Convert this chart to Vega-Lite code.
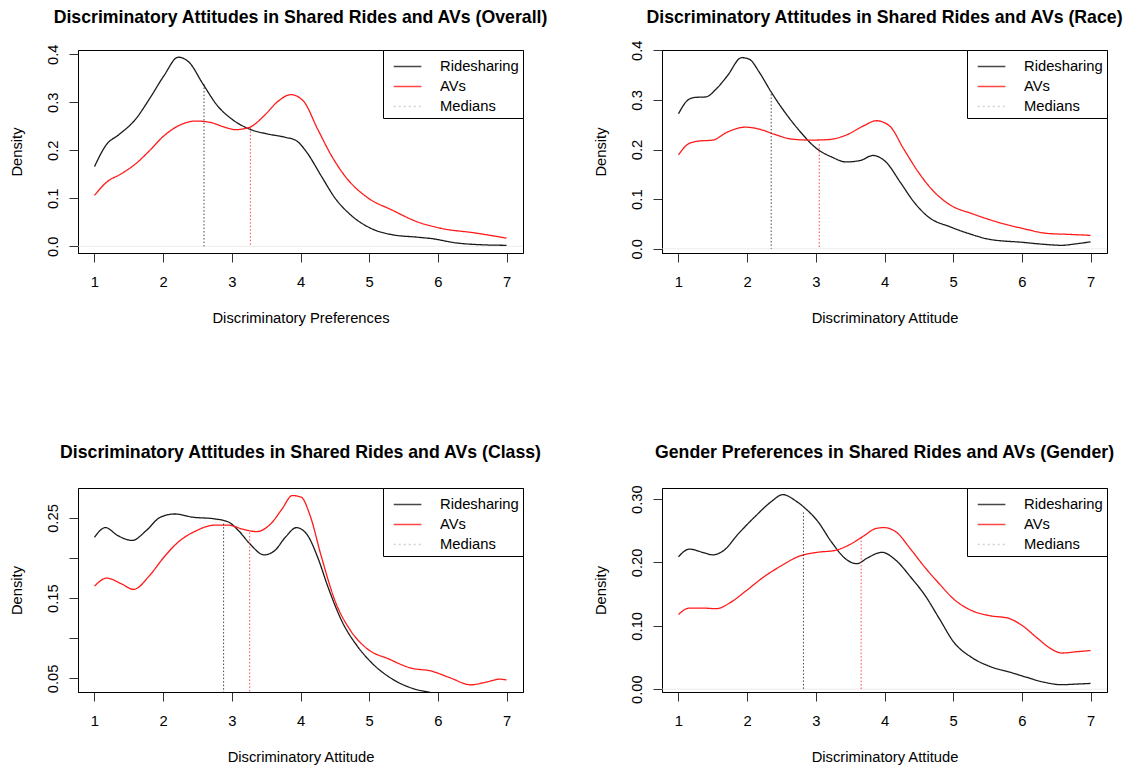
{
  "$schema": "https://vega.github.io/schema/vega-lite/v6.json",
  "background": "white",
  "padding": {"left": 8, "top": 8, "right": 5, "bottom": 5},
  "bounds": "flush",
  "columns": 2,
  "spacing": {"row": 235, "column": 139},
  "resolve": {"scale": {"color": "independent", "strokeDash": "independent"}},
  "datasets": {
    "curves": [
      {"panel": "overall", "series": "Ridesharing", "x": 1, "density": 0.166},
      {"panel": "overall", "series": "Ridesharing", "x": 1.18, "density": 0.213},
      {"panel": "overall", "series": "Ridesharing", "x": 1.35, "density": 0.232},
      {"panel": "overall", "series": "Ridesharing", "x": 1.6, "density": 0.265},
      {"panel": "overall", "series": "Ridesharing", "x": 1.8, "density": 0.307},
      {"panel": "overall", "series": "Ridesharing", "x": 2.01, "density": 0.355},
      {"panel": "overall", "series": "Ridesharing", "x": 2.22, "density": 0.394},
      {"panel": "overall", "series": "Ridesharing", "x": 2.38, "density": 0.383},
      {"panel": "overall", "series": "Ridesharing", "x": 2.58, "density": 0.338},
      {"panel": "overall", "series": "Ridesharing", "x": 2.79, "density": 0.293},
      {"panel": "overall", "series": "Ridesharing", "x": 3.0, "density": 0.265},
      {"panel": "overall", "series": "Ridesharing", "x": 3.26, "density": 0.244},
      {"panel": "overall", "series": "Ridesharing", "x": 3.52, "density": 0.234},
      {"panel": "overall", "series": "Ridesharing", "x": 3.78, "density": 0.227},
      {"panel": "overall", "series": "Ridesharing", "x": 3.94, "density": 0.22},
      {"panel": "overall", "series": "Ridesharing", "x": 4.09, "density": 0.196},
      {"panel": "overall", "series": "Ridesharing", "x": 4.3, "density": 0.147},
      {"panel": "overall", "series": "Ridesharing", "x": 4.51, "density": 0.099},
      {"panel": "overall", "series": "Ridesharing", "x": 4.71, "density": 0.068},
      {"panel": "overall", "series": "Ridesharing", "x": 5.03, "density": 0.037},
      {"panel": "overall", "series": "Ridesharing", "x": 5.34, "density": 0.024},
      {"panel": "overall", "series": "Ridesharing", "x": 5.7, "density": 0.019},
      {"panel": "overall", "series": "Ridesharing", "x": 5.91, "density": 0.016},
      {"panel": "overall", "series": "Ridesharing", "x": 6.27, "density": 0.007},
      {"panel": "overall", "series": "Ridesharing", "x": 6.58, "density": 0.0035},
      {"panel": "overall", "series": "Ridesharing", "x": 7, "density": 0.002},
      {"panel": "overall", "series": "AVs", "x": 1, "density": 0.106},
      {"panel": "overall", "series": "AVs", "x": 1.18, "density": 0.134},
      {"panel": "overall", "series": "AVs", "x": 1.39, "density": 0.151},
      {"panel": "overall", "series": "AVs", "x": 1.6, "density": 0.172},
      {"panel": "overall", "series": "AVs", "x": 1.8, "density": 0.199},
      {"panel": "overall", "series": "AVs", "x": 2.01, "density": 0.23},
      {"panel": "overall", "series": "AVs", "x": 2.22, "density": 0.251},
      {"panel": "overall", "series": "AVs", "x": 2.48, "density": 0.261},
      {"panel": "overall", "series": "AVs", "x": 2.69, "density": 0.258},
      {"panel": "overall", "series": "AVs", "x": 2.9, "density": 0.248},
      {"panel": "overall", "series": "AVs", "x": 3.05, "density": 0.243},
      {"panel": "overall", "series": "AVs", "x": 3.26, "density": 0.248},
      {"panel": "overall", "series": "AVs", "x": 3.47, "density": 0.272},
      {"panel": "overall", "series": "AVs", "x": 3.68, "density": 0.303},
      {"panel": "overall", "series": "AVs", "x": 3.86, "density": 0.316},
      {"panel": "overall", "series": "AVs", "x": 4.04, "density": 0.303},
      {"panel": "overall", "series": "AVs", "x": 4.25, "density": 0.244},
      {"panel": "overall", "series": "AVs", "x": 4.45, "density": 0.189},
      {"panel": "overall", "series": "AVs", "x": 4.66, "density": 0.144},
      {"panel": "overall", "series": "AVs", "x": 4.97, "density": 0.102},
      {"panel": "overall", "series": "AVs", "x": 5.34, "density": 0.075},
      {"panel": "overall", "series": "AVs", "x": 5.7, "density": 0.051},
      {"panel": "overall", "series": "AVs", "x": 6.06, "density": 0.037},
      {"panel": "overall", "series": "AVs", "x": 6.53, "density": 0.028},
      {"panel": "overall", "series": "AVs", "x": 7, "density": 0.017},

      {"panel": "race", "series": "Ridesharing", "x": 1, "density": 0.272},
      {"panel": "race", "series": "Ridesharing", "x": 1.14, "density": 0.3},
      {"panel": "race", "series": "Ridesharing", "x": 1.24, "density": 0.305},
      {"panel": "race", "series": "Ridesharing", "x": 1.4, "density": 0.306},
      {"panel": "race", "series": "Ridesharing", "x": 1.55, "density": 0.322},
      {"panel": "race", "series": "Ridesharing", "x": 1.71, "density": 0.348},
      {"panel": "race", "series": "Ridesharing", "x": 1.92, "density": 0.385},
      {"panel": "race", "series": "Ridesharing", "x": 2.03, "density": 0.382},
      {"panel": "race", "series": "Ridesharing", "x": 2.18, "density": 0.355},
      {"panel": "race", "series": "Ridesharing", "x": 2.34, "density": 0.318},
      {"panel": "race", "series": "Ridesharing", "x": 2.55, "density": 0.275},
      {"panel": "race", "series": "Ridesharing", "x": 2.76, "density": 0.238},
      {"panel": "race", "series": "Ridesharing", "x": 3.02, "density": 0.201},
      {"panel": "race", "series": "Ridesharing", "x": 3.23, "density": 0.185},
      {"panel": "race", "series": "Ridesharing", "x": 3.44, "density": 0.175},
      {"panel": "race", "series": "Ridesharing", "x": 3.65, "density": 0.178},
      {"panel": "race", "series": "Ridesharing", "x": 3.83, "density": 0.188},
      {"panel": "race", "series": "Ridesharing", "x": 4.02, "density": 0.175},
      {"panel": "race", "series": "Ridesharing", "x": 4.23, "density": 0.134},
      {"panel": "race", "series": "Ridesharing", "x": 4.43, "density": 0.094},
      {"panel": "race", "series": "Ridesharing", "x": 4.64, "density": 0.064},
      {"panel": "race", "series": "Ridesharing", "x": 4.96, "density": 0.044},
      {"panel": "race", "series": "Ridesharing", "x": 5.22, "density": 0.031},
      {"panel": "race", "series": "Ridesharing", "x": 5.53, "density": 0.019},
      {"panel": "race", "series": "Ridesharing", "x": 6.01, "density": 0.013},
      {"panel": "race", "series": "Ridesharing", "x": 6.32, "density": 0.009},
      {"panel": "race", "series": "Ridesharing", "x": 6.58, "density": 0.007},
      {"panel": "race", "series": "Ridesharing", "x": 6.79, "density": 0.01},
      {"panel": "race", "series": "Ridesharing", "x": 7, "density": 0.014},
      {"panel": "race", "series": "AVs", "x": 1, "density": 0.189},
      {"panel": "race", "series": "AVs", "x": 1.14, "density": 0.211},
      {"panel": "race", "series": "AVs", "x": 1.29, "density": 0.217},
      {"panel": "race", "series": "AVs", "x": 1.5, "density": 0.219},
      {"panel": "race", "series": "AVs", "x": 1.71, "density": 0.235},
      {"panel": "race", "series": "AVs", "x": 1.97, "density": 0.245},
      {"panel": "race", "series": "AVs", "x": 2.18, "density": 0.241},
      {"panel": "race", "series": "AVs", "x": 2.39, "density": 0.231},
      {"panel": "race", "series": "AVs", "x": 2.65, "density": 0.221},
      {"panel": "race", "series": "AVs", "x": 2.92, "density": 0.219},
      {"panel": "race", "series": "AVs", "x": 3.18, "density": 0.22},
      {"panel": "race", "series": "AVs", "x": 3.44, "density": 0.229},
      {"panel": "race", "series": "AVs", "x": 3.7, "density": 0.248},
      {"panel": "race", "series": "AVs", "x": 3.88, "density": 0.258},
      {"panel": "race", "series": "AVs", "x": 4.07, "density": 0.248},
      {"panel": "race", "series": "AVs", "x": 4.28, "density": 0.201},
      {"panel": "race", "series": "AVs", "x": 4.49, "density": 0.155},
      {"panel": "race", "series": "AVs", "x": 4.7, "density": 0.118},
      {"panel": "race", "series": "AVs", "x": 4.96, "density": 0.088},
      {"panel": "race", "series": "AVs", "x": 5.27, "density": 0.071},
      {"panel": "race", "series": "AVs", "x": 5.64, "density": 0.054},
      {"panel": "race", "series": "AVs", "x": 6.01, "density": 0.041},
      {"panel": "race", "series": "AVs", "x": 6.37, "density": 0.031},
      {"panel": "race", "series": "AVs", "x": 6.69, "density": 0.029},
      {"panel": "race", "series": "AVs", "x": 7, "density": 0.027},

      {"panel": "class", "series": "Ridesharing", "x": 1, "density": 0.226},
      {"panel": "class", "series": "Ridesharing", "x": 1.16, "density": 0.238},
      {"panel": "class", "series": "Ridesharing", "x": 1.34, "density": 0.228},
      {"panel": "class", "series": "Ridesharing", "x": 1.55, "density": 0.222},
      {"panel": "class", "series": "Ridesharing", "x": 1.75, "density": 0.234},
      {"panel": "class", "series": "Ridesharing", "x": 1.96, "density": 0.251},
      {"panel": "class", "series": "Ridesharing", "x": 2.17, "density": 0.255},
      {"panel": "class", "series": "Ridesharing", "x": 2.43, "density": 0.251},
      {"panel": "class", "series": "Ridesharing", "x": 2.74, "density": 0.249},
      {"panel": "class", "series": "Ridesharing", "x": 2.95, "density": 0.245},
      {"panel": "class", "series": "Ridesharing", "x": 3.1, "density": 0.234},
      {"panel": "class", "series": "Ridesharing", "x": 3.26, "density": 0.218},
      {"panel": "class", "series": "Ridesharing", "x": 3.47, "density": 0.204},
      {"panel": "class", "series": "Ridesharing", "x": 3.62, "density": 0.209},
      {"panel": "class", "series": "Ridesharing", "x": 3.78, "density": 0.226},
      {"panel": "class", "series": "Ridesharing", "x": 3.94, "density": 0.238},
      {"panel": "class", "series": "Ridesharing", "x": 4.09, "density": 0.23},
      {"panel": "class", "series": "Ridesharing", "x": 4.25, "density": 0.201},
      {"panel": "class", "series": "Ridesharing", "x": 4.4, "density": 0.164},
      {"panel": "class", "series": "Ridesharing", "x": 4.61, "density": 0.12},
      {"panel": "class", "series": "Ridesharing", "x": 4.82, "density": 0.091},
      {"panel": "class", "series": "Ridesharing", "x": 5.03, "density": 0.07},
      {"panel": "class", "series": "Ridesharing", "x": 5.34, "density": 0.049},
      {"panel": "class", "series": "Ridesharing", "x": 5.65, "density": 0.037},
      {"panel": "class", "series": "Ridesharing", "x": 5.86, "density": 0.033},
      {"panel": "class", "series": "Ridesharing", "x": 6.2, "density": 0.029},
      {"panel": "class", "series": "Ridesharing", "x": 6.6, "density": 0.027},
      {"panel": "class", "series": "Ridesharing", "x": 7, "density": 0.026},
      {"panel": "class", "series": "AVs", "x": 1, "density": 0.165},
      {"panel": "class", "series": "AVs", "x": 1.18, "density": 0.175},
      {"panel": "class", "series": "AVs", "x": 1.39, "density": 0.168},
      {"panel": "class", "series": "AVs", "x": 1.57, "density": 0.161},
      {"panel": "class", "series": "AVs", "x": 1.8, "density": 0.178},
      {"panel": "class", "series": "AVs", "x": 2.01, "density": 0.201},
      {"panel": "class", "series": "AVs", "x": 2.22, "density": 0.22},
      {"panel": "class", "series": "AVs", "x": 2.48, "density": 0.234},
      {"panel": "class", "series": "AVs", "x": 2.74, "density": 0.241},
      {"panel": "class", "series": "AVs", "x": 2.95, "density": 0.241},
      {"panel": "class", "series": "AVs", "x": 3.16, "density": 0.236},
      {"panel": "class", "series": "AVs", "x": 3.36, "density": 0.233},
      {"panel": "class", "series": "AVs", "x": 3.57, "density": 0.243},
      {"panel": "class", "series": "AVs", "x": 3.73, "density": 0.261},
      {"panel": "class", "series": "AVs", "x": 3.88, "density": 0.278},
      {"panel": "class", "series": "AVs", "x": 4.01, "density": 0.276},
      {"panel": "class", "series": "AVs", "x": 4.14, "density": 0.253},
      {"panel": "class", "series": "AVs", "x": 4.3, "density": 0.203},
      {"panel": "class", "series": "AVs", "x": 4.51, "density": 0.145},
      {"panel": "class", "series": "AVs", "x": 4.71, "density": 0.112},
      {"panel": "class", "series": "AVs", "x": 4.97, "density": 0.087},
      {"panel": "class", "series": "AVs", "x": 5.29, "density": 0.074},
      {"panel": "class", "series": "AVs", "x": 5.6, "density": 0.063},
      {"panel": "class", "series": "AVs", "x": 5.91, "density": 0.059},
      {"panel": "class", "series": "AVs", "x": 6.17, "density": 0.051},
      {"panel": "class", "series": "AVs", "x": 6.48, "density": 0.042},
      {"panel": "class", "series": "AVs", "x": 6.69, "density": 0.045},
      {"panel": "class", "series": "AVs", "x": 6.9, "density": 0.049},
      {"panel": "class", "series": "AVs", "x": 7, "density": 0.048},

      {"panel": "gender", "series": "Ridesharing", "x": 1, "density": 0.209},
      {"panel": "gender", "series": "Ridesharing", "x": 1.16, "density": 0.221},
      {"panel": "gender", "series": "Ridesharing", "x": 1.35, "density": 0.216},
      {"panel": "gender", "series": "Ridesharing", "x": 1.5, "density": 0.212},
      {"panel": "gender", "series": "Ridesharing", "x": 1.66, "density": 0.219},
      {"panel": "gender", "series": "Ridesharing", "x": 1.87, "density": 0.245},
      {"panel": "gender", "series": "Ridesharing", "x": 2.13, "density": 0.274},
      {"panel": "gender", "series": "Ridesharing", "x": 2.34, "density": 0.295},
      {"panel": "gender", "series": "Ridesharing", "x": 2.52, "density": 0.307},
      {"panel": "gender", "series": "Ridesharing", "x": 2.71, "density": 0.297},
      {"panel": "gender", "series": "Ridesharing", "x": 2.86, "density": 0.284},
      {"panel": "gender", "series": "Ridesharing", "x": 3.02, "density": 0.266},
      {"panel": "gender", "series": "Ridesharing", "x": 3.23, "density": 0.232},
      {"panel": "gender", "series": "Ridesharing", "x": 3.44, "density": 0.205},
      {"panel": "gender", "series": "Ridesharing", "x": 3.6, "density": 0.198},
      {"panel": "gender", "series": "Ridesharing", "x": 3.75, "density": 0.207},
      {"panel": "gender", "series": "Ridesharing", "x": 3.96, "density": 0.216},
      {"panel": "gender", "series": "Ridesharing", "x": 4.17, "density": 0.203},
      {"panel": "gender", "series": "Ridesharing", "x": 4.38, "density": 0.177},
      {"panel": "gender", "series": "Ridesharing", "x": 4.59, "density": 0.148},
      {"panel": "gender", "series": "Ridesharing", "x": 4.8, "density": 0.111},
      {"panel": "gender", "series": "Ridesharing", "x": 5.01, "density": 0.074},
      {"panel": "gender", "series": "Ridesharing", "x": 5.27, "density": 0.05},
      {"panel": "gender", "series": "Ridesharing", "x": 5.53, "density": 0.036},
      {"panel": "gender", "series": "Ridesharing", "x": 5.85, "density": 0.026},
      {"panel": "gender", "series": "Ridesharing", "x": 6.06, "density": 0.019},
      {"panel": "gender", "series": "Ridesharing", "x": 6.32, "density": 0.011},
      {"panel": "gender", "series": "Ridesharing", "x": 6.58, "density": 0.007},
      {"panel": "gender", "series": "Ridesharing", "x": 6.79, "density": 0.008},
      {"panel": "gender", "series": "Ridesharing", "x": 7, "density": 0.009},
      {"panel": "gender", "series": "AVs", "x": 1, "density": 0.118},
      {"panel": "gender", "series": "AVs", "x": 1.16, "density": 0.128},
      {"panel": "gender", "series": "AVs", "x": 1.35, "density": 0.128},
      {"panel": "gender", "series": "AVs", "x": 1.55, "density": 0.127},
      {"panel": "gender", "series": "AVs", "x": 1.76, "density": 0.137},
      {"panel": "gender", "series": "AVs", "x": 1.97, "density": 0.154},
      {"panel": "gender", "series": "AVs", "x": 2.24, "density": 0.177},
      {"panel": "gender", "series": "AVs", "x": 2.5, "density": 0.195},
      {"panel": "gender", "series": "AVs", "x": 2.76, "density": 0.21},
      {"panel": "gender", "series": "AVs", "x": 3.02, "density": 0.216},
      {"panel": "gender", "series": "AVs", "x": 3.28, "density": 0.219},
      {"panel": "gender", "series": "AVs", "x": 3.49, "density": 0.228},
      {"panel": "gender", "series": "AVs", "x": 3.7, "density": 0.242},
      {"panel": "gender", "series": "AVs", "x": 3.86, "density": 0.253},
      {"panel": "gender", "series": "AVs", "x": 3.99, "density": 0.255},
      {"panel": "gender", "series": "AVs", "x": 4.17, "density": 0.248},
      {"panel": "gender", "series": "AVs", "x": 4.38, "density": 0.221},
      {"panel": "gender", "series": "AVs", "x": 4.59, "density": 0.192},
      {"panel": "gender", "series": "AVs", "x": 4.8, "density": 0.166},
      {"panel": "gender", "series": "AVs", "x": 5.01, "density": 0.142},
      {"panel": "gender", "series": "AVs", "x": 5.27, "density": 0.124},
      {"panel": "gender", "series": "AVs", "x": 5.53, "density": 0.116},
      {"panel": "gender", "series": "AVs", "x": 5.8, "density": 0.112},
      {"panel": "gender", "series": "AVs", "x": 6.01, "density": 0.1},
      {"panel": "gender", "series": "AVs", "x": 6.21, "density": 0.082},
      {"panel": "gender", "series": "AVs", "x": 6.42, "density": 0.064},
      {"panel": "gender", "series": "AVs", "x": 6.58, "density": 0.057},
      {"panel": "gender", "series": "AVs", "x": 6.79, "density": 0.059},
      {"panel": "gender", "series": "AVs", "x": 7, "density": 0.061}
    ],
    "medians": [
      {"panel": "overall", "series": "Ridesharing", "x": 2.595, "density": 0.338},
      {"panel": "overall", "series": "AVs", "x": 3.27, "density": 0.247},
      {"panel": "race", "series": "Ridesharing", "x": 2.35, "density": 0.312},
      {"panel": "race", "series": "AVs", "x": 3.05, "density": 0.211},
      {"panel": "class", "series": "Ridesharing", "x": 2.88, "density": 0.243},
      {"panel": "class", "series": "AVs", "x": 3.26, "density": 0.232},
      {"panel": "gender", "series": "Ridesharing", "x": 2.82, "density": 0.279},
      {"panel": "gender", "series": "AVs", "x": 3.66, "density": 0.24}
    ],
    "zero": [{"density": 0}]
  },
  "concat": [
    {
      "width": 445, "height": 203,
      "title": {"text": "Discriminatory Attitudes in Shared Rides and AVs (Overall)", "offset": 17.5},
      "layer": [
        {
          "data": {"name": "zero"},
          "mark": {"type": "rule", "color": "#e2e2e2", "strokeWidth": 0.7, "clip": true},
          "encoding": {"y": {"field": "density", "type": "quantitative"}}
        },
        {
          "data": {"name": "curves"},
          "transform": [{"filter": "datum.panel == 'overall'"}],
          "mark": {"type": "line", "interpolate": "monotone", "strokeWidth": 1.3, "clip": true},
          "encoding": {
            "x": {"field": "x", "type": "quantitative", "scale": {"domain": [0.76, 7.24], "nice": false, "zero": false}, "axis": {"values": [1, 2, 3, 4, 5, 6, 7], "format": "d", "title": "Discriminatory Preferences"}},
            "y": {"field": "density", "type": "quantitative", "scale": {"domain": [-0.014, 0.409], "nice": false, "zero": false}, "axis": {"values": [0, 0.1, 0.2, 0.3, 0.4], "format": ".1f", "title": "Density"}},
            "color": {"field": "series", "type": "nominal", "scale": {"domain": ["Ridesharing", "AVs", "Medians"], "range": ["#1a1a1a", "#ff1a1a", "#c8c8c8"]}, "legend": {"title": null}},
            "strokeDash": {"field": "series", "type": "nominal", "scale": {"domain": ["Ridesharing", "AVs", "Medians"], "range": [[1, 0], [1, 0], [2, 3]]}, "legend": {"title": null}}
          }
        },
        {
          "data": {"name": "medians"},
          "transform": [{"filter": "datum.panel == 'overall'"}],
          "mark": {"type": "rule", "strokeDash": [1.5, 2], "strokeWidth": 1, "opacity": 0.8, "clip": true},
          "encoding": {
            "x": {"field": "x", "type": "quantitative"},
            "y": {"field": "density", "type": "quantitative"},
            "y2": {"datum": 0},
            "color": {"field": "series", "type": "nominal"}
          }
        }
      ]
    },
    {
      "width": 445, "height": 203,
      "title": {"text": "Discriminatory Attitudes in Shared Rides and AVs (Race)", "offset": 13.7},
      "layer": [
        {
          "data": {"name": "zero"},
          "mark": {"type": "rule", "color": "#e2e2e2", "strokeWidth": 0.7, "clip": true},
          "encoding": {"y": {"field": "density", "type": "quantitative"}}
        },
        {
          "data": {"name": "curves"},
          "transform": [{"filter": "datum.panel == 'race'"}],
          "mark": {"type": "line", "interpolate": "monotone", "strokeWidth": 1.3, "clip": true},
          "encoding": {
            "x": {"field": "x", "type": "quantitative", "scale": {"domain": [0.76, 7.24], "nice": false, "zero": false}, "axis": {"values": [1, 2, 3, 4, 5, 6, 7], "format": "d", "title": "Discriminatory Attitude"}},
            "y": {"field": "density", "type": "quantitative", "scale": {"domain": [-0.0085, 0.4005], "nice": false, "zero": false}, "axis": {"values": [0, 0.1, 0.2, 0.3, 0.4], "format": ".1f", "title": "Density"}},
            "color": {"field": "series", "type": "nominal", "scale": {"domain": ["Ridesharing", "AVs", "Medians"], "range": ["#1a1a1a", "#ff1a1a", "#c8c8c8"]}, "legend": {"title": null}},
            "strokeDash": {"field": "series", "type": "nominal", "scale": {"domain": ["Ridesharing", "AVs", "Medians"], "range": [[1, 0], [1, 0], [2, 3]]}, "legend": {"title": null}}
          }
        },
        {
          "data": {"name": "medians"},
          "transform": [{"filter": "datum.panel == 'race'"}],
          "mark": {"type": "rule", "strokeDash": [1.5, 2], "strokeWidth": 1, "opacity": 0.8, "clip": true},
          "encoding": {
            "x": {"field": "x", "type": "quantitative"},
            "y": {"field": "density", "type": "quantitative"},
            "y2": {"datum": 0},
            "color": {"field": "series", "type": "nominal"}
          }
        }
      ]
    },
    {
      "width": 445, "height": 204,
      "title": {"text": "Discriminatory Attitudes in Shared Rides and AVs (Class)", "offset": 26.3},
      "layer": [
        {
          "data": {"name": "zero"},
          "mark": {"type": "rule", "color": "#e2e2e2", "strokeWidth": 0.7, "clip": true},
          "encoding": {"y": {"field": "density", "type": "quantitative"}}
        },
        {
          "data": {"name": "curves"},
          "transform": [{"filter": "datum.panel == 'class'"}],
          "mark": {"type": "line", "interpolate": "monotone", "strokeWidth": 1.3, "clip": true},
          "encoding": {
            "x": {"field": "x", "type": "quantitative", "scale": {"domain": [0.76, 7.24], "nice": false, "zero": false}, "axis": {"values": [1, 2, 3, 4, 5, 6, 7], "format": "d", "title": "Discriminatory Attitude"}},
            "y": {"field": "density", "type": "quantitative", "scale": {"domain": [0.033, 0.2874], "nice": false, "zero": false}, "axis": {"values": [0.05, 0.1, 0.15, 0.2, 0.25], "labelExpr": "(abs(datum.value - 0.1) < 0.001 || abs(datum.value - 0.2) < 0.001) ? '' : format(datum.value, '.2f')", "title": "Density"}},
            "color": {"field": "series", "type": "nominal", "scale": {"domain": ["Ridesharing", "AVs", "Medians"], "range": ["#1a1a1a", "#ff1a1a", "#c8c8c8"]}, "legend": {"title": null}},
            "strokeDash": {"field": "series", "type": "nominal", "scale": {"domain": ["Ridesharing", "AVs", "Medians"], "range": [[1, 0], [1, 0], [2, 3]]}, "legend": {"title": null}}
          }
        },
        {
          "data": {"name": "medians"},
          "transform": [{"filter": "datum.panel == 'class'"}],
          "mark": {"type": "rule", "strokeDash": [1.5, 2], "strokeWidth": 1, "opacity": 0.8, "clip": true},
          "encoding": {
            "x": {"field": "x", "type": "quantitative"},
            "y": {"field": "density", "type": "quantitative"},
            "y2": {"datum": 0},
            "color": {"field": "series", "type": "nominal"}
          }
        }
      ]
    },
    {
      "width": 445, "height": 204,
      "title": {"text": "Gender Preferences in Shared Rides and AVs (Gender)", "offset": 23},
      "layer": [
        {
          "data": {"name": "zero"},
          "mark": {"type": "rule", "color": "#e2e2e2", "strokeWidth": 0.7, "clip": true},
          "encoding": {"y": {"field": "density", "type": "quantitative"}}
        },
        {
          "data": {"name": "curves"},
          "transform": [{"filter": "datum.panel == 'gender'"}],
          "mark": {"type": "line", "interpolate": "monotone", "strokeWidth": 1.3, "clip": true},
          "encoding": {
            "x": {"field": "x", "type": "quantitative", "scale": {"domain": [0.76, 7.24], "nice": false, "zero": false}, "axis": {"values": [1, 2, 3, 4, 5, 6, 7], "format": "d", "title": "Discriminatory Attitude"}},
            "y": {"field": "density", "type": "quantitative", "scale": {"domain": [-0.0045, 0.3175], "nice": false, "zero": false}, "axis": {"values": [0, 0.05, 0.1, 0.15, 0.2, 0.25, 0.3], "labelExpr": "abs(datum.value * 10 - round(datum.value * 10)) < 0.001 ? format(datum.value, '.2f') : ''", "title": "Density"}},
            "color": {"field": "series", "type": "nominal", "scale": {"domain": ["Ridesharing", "AVs", "Medians"], "range": ["#1a1a1a", "#ff1a1a", "#c8c8c8"]}, "legend": {"title": null}},
            "strokeDash": {"field": "series", "type": "nominal", "scale": {"domain": ["Ridesharing", "AVs", "Medians"], "range": [[1, 0], [1, 0], [2, 3]]}, "legend": {"title": null}}
          }
        },
        {
          "data": {"name": "medians"},
          "transform": [{"filter": "datum.panel == 'gender'"}],
          "mark": {"type": "rule", "strokeDash": [1.5, 2], "strokeWidth": 1, "opacity": 0.8, "clip": true},
          "encoding": {
            "x": {"field": "x", "type": "quantitative"},
            "y": {"field": "density", "type": "quantitative"},
            "y2": {"datum": 0},
            "color": {"field": "series", "type": "nominal"}
          }
        }
      ]
    }
  ],
  "config": {
    "font": "Liberation Sans",
    "view": {"stroke": "black", "strokeWidth": 1},
    "axis": {
      "grid": false,
      "domainColor": "black",
      "tickColor": "#333333",
      "labelColor": "black",
      "titleColor": "black",
      "labelFont": "Liberation Sans",
      "titleFont": "Liberation Sans",
      "labelFontSize": 14.75,
      "titleFontSize": 14.75,
      "titleFontWeight": "normal",
      "tickSize": 9,
      "labelPadding": 12,
      "labelFlush": false,
      "labelOverlap": false
    },
    "axisX": {"titlePadding": 22},
    "axisY": {"labelAngle": -90, "labelAlign": "center", "labelBaseline": "alphabetic", "titlePadding": 21},
    "title": {"fontSize": 17.7, "fontWeight": "bold", "color": "black", "font": "Liberation Sans", "anchor": "middle"},
    "legend": {
      "orient": "top-right",
      "offset": 0,
      "padding": 4,
      "strokeColor": "black",
      "fillColor": "white",
      "cornerRadius": 0,
      "symbolType": "M-0.5,0H1.9",
      "symbolSize": 529,
      "symbolStrokeWidth": 1.3,
      "labelFontSize": 14.75,
      "labelFont": "Liberation Sans",
      "labelColor": "black",
      "labelOffset": 28,
      "rowPadding": -3.5
    }
  }
}
